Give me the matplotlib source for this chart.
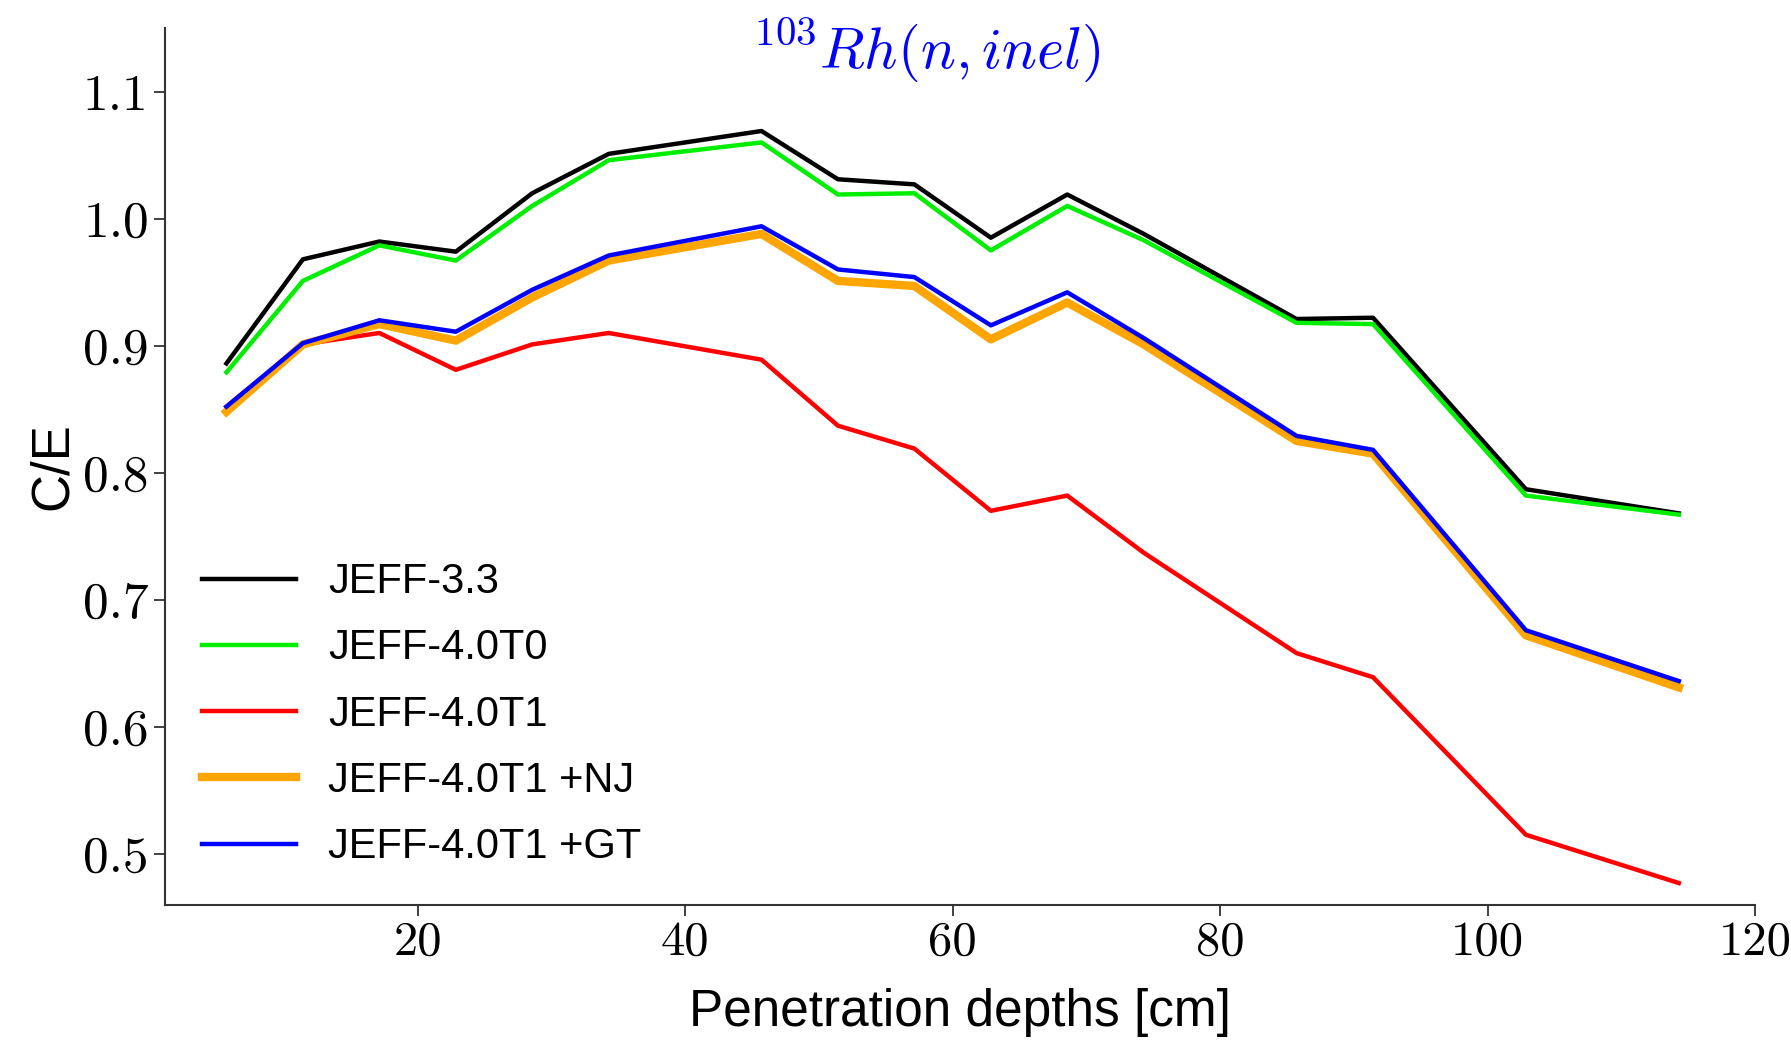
import numpy as np
import matplotlib
matplotlib.use('Agg')
import matplotlib.pyplot as plt

plt.rcParams['mathtext.fontset'] = 'cm'
plt.rcParams['font.family'] = ['Liberation Sans', 'DejaVu Sans']

# penetration depths [cm]
depth = [5.71, 11.43, 17.14, 22.86, 28.57, 34.29, 45.71, 51.43,
         57.14, 62.86, 68.57, 74.29, 85.71, 91.43, 102.86, 114.29]

# C/E per library
jeff33 = [0.886, 0.968, 0.982, 0.974, 1.020, 1.051, 1.069, 1.031,
          1.027, 0.985, 1.019, 0.988, 0.921, 0.922, 0.787, 0.768]
jeff40t0 = [0.879, 0.951, 0.979, 0.967, 1.010, 1.046, 1.060, 1.019,
            1.020, 0.975, 1.010, 0.983, 0.918, 0.917, 0.782, 0.767]
jeff40t1 = [0.852, 0.901, 0.910, 0.881, 0.901, 0.910, 0.889, 0.837,
            0.819, 0.770, 0.782, 0.737, 0.658, 0.639, 0.515, 0.477]
jeff40t1_nj = [0.848, 0.901, 0.917, 0.904, 0.938, 0.967, 0.988, 0.951,
               0.947, 0.905, 0.934, 0.901, 0.825, 0.815, 0.672, 0.631]
jeff40t1_gt = [0.852, 0.902, 0.920, 0.911, 0.944, 0.971, 0.994, 0.960,
               0.954, 0.916, 0.942, 0.906, 0.829, 0.818, 0.676, 0.636]

xticks = [20, 40, 60, 80, 100, 120]
yticks = [0.5, 0.6, 0.7, 0.8, 0.9, 1.0, 1.1]

fig = plt.figure(figsize=(17.91, 10.41), dpi=100)
ax = fig.add_axes([0.092, 0.131, 0.888, 0.842])

ax.plot(depth, jeff33, color='black', lw=3.2, label='JEFF-3.3')
ax.plot(depth, jeff40t0, color='#00ee00', lw=3.2, label='JEFF-4.0T0')
ax.plot(depth, jeff40t1, color='red', lw=3.2, label='JEFF-4.0T1')
ax.plot(depth, jeff40t1_nj, color='orange', lw=6, label='JEFF-4.0T1 +NJ')
ax.plot(depth, jeff40t1_gt, color='blue', lw=3.2, label='JEFF-4.0T1 +GT')

ax.set_xlim(1.1, 120)
ax.set_ylim(0.46, 1.15)
ax.set_xticks(xticks)
ax.set_xticklabels([f'{v}' for v in xticks], fontfamily='cmr10')
ax.set_yticks(yticks)
ax.set_yticklabels([f'{v:.1f}' for v in yticks], fontfamily='cmr10')
ax.tick_params(labelsize=35, length=8, width=1.3, color='#333333')
ax.tick_params(axis='y', labelsize=37)

for s in ['top', 'right']:
    ax.spines[s].set_visible(False)
for s in ['left', 'bottom']:
    ax.spines[s].set_color('#333333')
    ax.spines[s].set_linewidth(1.5)

ax.set_xlabel('Penetration depths [cm]', fontsize=37, labelpad=17)
ax.set_ylabel('C/E', fontsize=38)

fig.text(0.517, 0.952, r'$^{103}Rh(n,inel)$', color='blue', fontsize=42,
         ha='center', va='center')

ax.legend(loc='lower left', bbox_to_anchor=(0.0, 0.0), frameon=False,
          fontsize=30, handlelength=2.25, handletextpad=0.77, labelspacing=0.63)

fig.savefig('out.png', dpi=100)
